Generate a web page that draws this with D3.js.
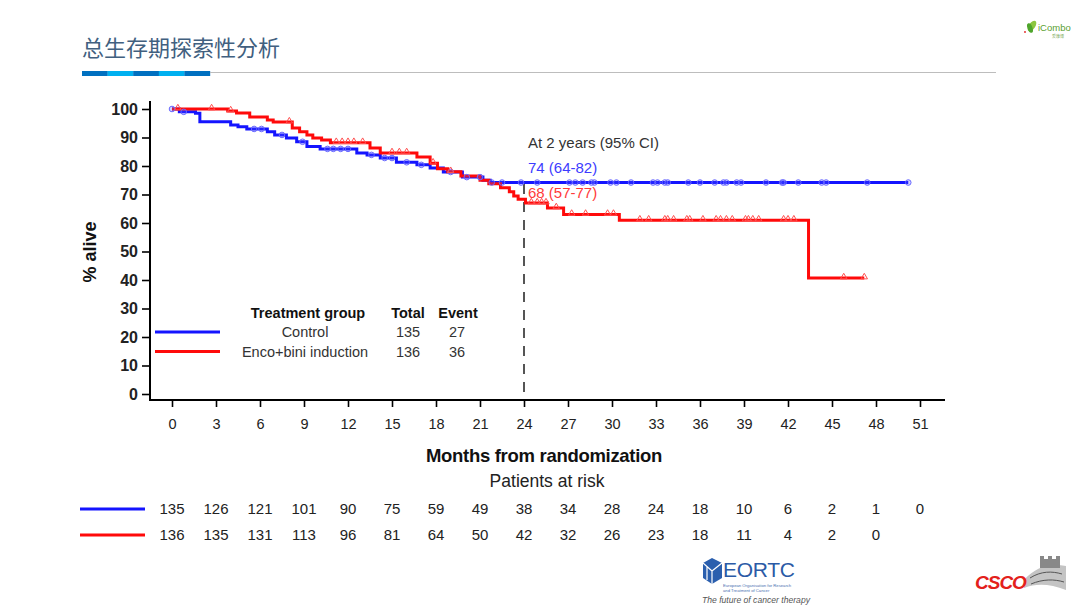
<!DOCTYPE html>
<html><head><meta charset="utf-8">
<script src="https://cdn.jsdelivr.net/npm/d3@7"></script>
<style>
body{margin:0;background:#fff}
svg{display:block}
text{font-family:"Liberation Sans",Arial,sans-serif}
</style>
</head><body>
<svg id="c" width="1080" height="608"></svg>
<script>
// ---------------- data ----------------
const title = "总生存期探索性分析";
const groups = ["Control", "Enco+bini induction"];
const totals = [135, 136];
const events = [27, 36];
const controlTime = [0, 0.5, 1.6, 1.9, 4.0, 4.5, 5.1, 6.5, 7.0, 7.8, 8.5, 9.2, 10.1, 12.6, 13.3, 14.2, 15.3, 16.7, 17.6, 18.5, 19.8, 21.2, 21.7, 50.2];
const controlSurv = [100, 99.0, 98.5, 95.5, 94.4, 93.8, 93.0, 92.0, 90.9, 89.8, 88.5, 86.8, 86.0, 84.6, 83.9, 82.8, 81.3, 80.4, 79.3, 77.9, 76.1, 75.0, 74.2, 74.2];
const encoTime = [0, 3.8, 4.4, 5.3, 6.5, 6.9, 8.2, 8.7, 9.2, 9.6, 10.2, 10.8, 13.5, 14.2, 16.7, 17.6, 18.1, 18.8, 19.7, 21.0, 21.6, 22.4, 23.0, 23.3, 23.6, 24.1, 25.6, 26.7, 30.5, 43.4, 47.2];
const encoSurv = [100, 99.3, 98.6, 97.2, 96.1, 95.4, 93.3, 92.0, 90.9, 89.8, 89.1, 88.2, 86.3, 84.6, 83.2, 81.0, 79.0, 78.0, 76.5, 75.0, 73.8, 72.4, 71.0, 69.5, 68.3, 67.0, 65.3, 63.0, 61.0, 40.7, 40.7];
const controlCensor = [0, 0.8, 5.6, 6.1, 7.5, 8.9, 10.6, 11.0, 11.5, 12.0, 13.6, 14.5, 15.0, 16.0, 17.0, 19.0, 20.1, 21.0, 21.8, 22.5, 23.8, 24.9, 27.1, 27.5, 28.0, 28.6, 28.8, 29.9, 30.3, 31.3, 32.8, 33.1, 33.6, 33.8, 35.2, 36.0, 37.0, 37.6, 37.8, 38.5, 38.8, 40.5, 41.6, 41.7, 42.7, 44.3, 44.6, 47.4, 50.2];
const encoCensor = [0.4, 2.7, 4.0, 8.0, 11.2, 11.6, 12.0, 12.4, 13.0, 15.0, 15.5, 16.0, 17.8, 19.0, 24.5, 24.9, 25.2, 25.5, 26.2, 27.25, 28.2, 29.7, 30.1, 31.9, 32.5, 33.6, 33.8, 34.2, 35.1, 35.3, 36.2, 37.1, 37.4, 37.8, 38.2, 39.1, 39.3, 39.6, 40.0, 41.7, 42.0, 42.4, 45.8, 47.2];
const monthTicks = [0, 3, 6, 9, 12, 15, 18, 21, 24, 27, 30, 33, 36, 39, 42, 45, 48, 51];
const pctTicks = [0, 10, 20, 30, 40, 50, 60, 70, 80, 90, 100];
const riskControl = [135, 126, 121, 101, 90, 75, 59, 49, 38, 34, 28, 24, 18, 10, 6, 2, 1, 0];
const riskEnco = [136, 135, 131, 113, 96, 81, 64, 50, 42, 32, 26, 23, 18, 11, 4, 2, 0];
const landmarkMonth = 24;
const landmarkTitle = "At 2 years (95% CI)";
const landmarkText = ["74 (64-82)", "68 (57-77)"];
const xTitle = "Months from randomization";
const yTitle = "% alive";
const riskTitle = "Patients at risk";

// ---------------- drawing ----------------
const BLUE = "#1414ff", RED = "#ff0a0a";
const svg = d3.select("#c");
svg.append("rect").attr("width", 1080).attr("height", 608).attr("fill", "#fff");

// header
svg.append("text").attr("x", 82).attr("y", 56).text(title)
  .style("font-family", "'Noto Sans CJK SC',sans-serif").style("font-size", "22px").attr("fill", "#41607f");
const segCols = ["#0070c0", "#00b0f0", "#0070c0", "#00b0f0", "#0070c0"];
segCols.forEach((c, i) => svg.append("rect").attr("x", 82 + i * 25.6).attr("y", 71).attr("width", 25.8).attr("height", 5).attr("fill", c));
svg.append("line").attr("x1", 210).attr("x2", 996).attr("y1", 72.5).attr("y2", 72.5).attr("stroke", "#bdbdbd").attr("stroke-width", 1.2);

// iCombo logo
const lg = svg.append("g");
lg.append("ellipse").attr("cx", 1032).attr("cy", 26).attr("rx", 3.2).attr("ry", 6).attr("transform", "rotate(35 1032 26)").attr("fill", "#8cc63f");
lg.append("ellipse").attr("cx", 1030).attr("cy", 28).attr("rx", 2.5).attr("ry", 5).attr("transform", "rotate(-20 1030 28)").attr("fill", "#4fa52c");
lg.append("circle").attr("cx", 1025).attr("cy", 32).attr("r", 0.9).attr("fill", "#e02020");
lg.append("text").attr("x", 1038).attr("y", 31).text("iCombo").style("font-size", "9.5px").attr("fill", "#5aa02f");
lg.append("text").attr("x", 1052).attr("y", 37.5).text("爱康博").style("font-size", "4px").style("font-family", "'Noto Sans CJK SC'").attr("fill", "#7aaa55");

// scales
const x = d3.scaleLinear().domain([0, 51]).range([172, 920]);
const y = d3.scaleLinear().domain([0, 100]).range([394, 109]);

// axes
const gx = svg.append("g").attr("transform", "translate(0,400)")
  .call(d3.axisBottom(x).tickValues(monthTicks).tickSize(7).tickPadding(12).tickSizeOuter(0));
gx.select(".domain").remove();
gx.selectAll("line").attr("stroke", "#000").attr("stroke-width", 1.6);
gx.selectAll("text").style("font-size", "14.5px").attr("fill", "#222");
svg.append("line").attr("x1", 150).attr("x2", 945).attr("y1", 400).attr("y2", 400).attr("stroke", "#000").attr("stroke-width", 2);

const gy = svg.append("g").attr("transform", "translate(150,0)")
  .call(d3.axisLeft(y).tickValues(pctTicks).tickSize(8).tickPadding(4).tickSizeOuter(0));
gy.select(".domain").remove();
gy.selectAll("line").attr("stroke", "#000").attr("stroke-width", 1.6);
gy.selectAll("text").style("font-size", "16px").style("font-weight", "bold").attr("fill", "#222");
svg.append("line").attr("x1", 150).attr("x2", 150).attr("y1", 101).attr("y2", 401).attr("stroke", "#000").attr("stroke-width", 2);

svg.append("text").attr("transform", "translate(96,252) rotate(-90)").attr("text-anchor", "middle")
  .text(yTitle).style("font-size", "18px").style("font-weight", "bold").attr("fill", "#111");
svg.append("text").attr("x", 544).attr("y", 462).attr("text-anchor", "middle")
  .text(xTitle).style("font-size", "18.5px").style("font-weight", "bold").attr("fill", "#111").style("letter-spacing", "-0.3px");
svg.append("text").attr("x", 547).attr("y", 487).attr("text-anchor", "middle")
  .text(riskTitle).style("font-size", "17.5px").attr("fill", "#222");

// landmark dashed line
svg.append("line").attr("x1", x(landmarkMonth)).attr("x2", x(landmarkMonth)).attr("y1", 184).attr("y2", 400)
  .attr("stroke", "#555").attr("stroke-width", 2).attr("stroke-dasharray", "10,8");

// curves
const line = d3.line().x(d => x(d[0])).y(d => y(d[1])).curve(d3.curveStepAfter);
const survAt = (times, surv, t) => surv[Math.max(0, d3.bisectRight(times, t) - 1)];
svg.append("path").datum(d3.zip(controlTime, controlSurv)).attr("d", line)
  .attr("fill", "none").attr("stroke", BLUE).attr("stroke-width", 3);
svg.append("path").datum(d3.zip(encoTime, encoSurv)).attr("d", line)
  .attr("fill", "none").attr("stroke", RED).attr("stroke-width", 3);

svg.append("g").selectAll("circle").data(controlCensor).join("circle")
  .attr("cx", d => x(d)).attr("cy", d => y(survAt(controlTime, controlSurv, d)))
  .attr("r", 2.8).attr("fill", "rgba(80,80,255,0.25)").attr("stroke", "#6a6aff").attr("stroke-width", 1);
const tri = d3.symbol().type(d3.symbolTriangle).size(18);
svg.append("g").selectAll("path").data(encoCensor).join("path")
  .attr("transform", d => `translate(${x(d)},${y(survAt(encoTime, encoSurv, d)) - 1})`)
  .attr("d", tri).attr("fill", "none").attr("stroke", "#ff5050").attr("stroke-width", 1);

// landmark annotations
svg.append("text").attr("x", 528).attr("y", 148).text(landmarkTitle).style("font-size", "15px").attr("fill", "#333");
svg.append("text").attr("x", 528).attr("y", 173).text(landmarkText[0]).style("font-size", "15px").attr("fill", "#3c3cff");
svg.append("text").attr("x", 528).attr("y", 198).text(landmarkText[1]).style("font-size", "15px").attr("fill", "#ff3a3a");

// legend inside plot
const lgd = svg.append("g");
lgd.append("text").attr("x", 308).attr("y", 318).attr("text-anchor", "middle").text("Treatment group").style("font-size", "14.5px").style("font-weight", "bold").attr("fill", "#111");
lgd.append("text").attr("x", 408).attr("y", 318).attr("text-anchor", "middle").text("Total").style("font-size", "14.5px").style("font-weight", "bold").attr("fill", "#111");
lgd.append("text").attr("x", 458).attr("y", 318).attr("text-anchor", "middle").text("Event").style("font-size", "14.5px").style("font-weight", "bold").attr("fill", "#111");
[BLUE, RED].forEach((c, i) => {
  const yy = 332 + i * 19.5;
  lgd.append("line").attr("x1", 155).attr("x2", 220).attr("y1", yy).attr("y2", yy).attr("stroke", c).attr("stroke-width", 3);
  lgd.append("text").attr("x", 305).attr("y", yy + 5).attr("text-anchor", "middle").text(groups[i]).style("font-size", "14.5px").attr("fill", "#333");
  lgd.append("text").attr("x", 408).attr("y", yy + 5).attr("text-anchor", "middle").text(totals[i]).style("font-size", "14.5px").attr("fill", "#333");
  lgd.append("text").attr("x", 457).attr("y", yy + 5).attr("text-anchor", "middle").text(events[i]).style("font-size", "14.5px").attr("fill", "#333");
});

// risk table
[riskControl, riskEnco].forEach((row, i) => {
  const yy = 509 + i * 26;
  svg.append("line").attr("x1", 80).attr("x2", 145).attr("y1", yy).attr("y2", yy).attr("stroke", i ? RED : BLUE).attr("stroke-width", 3);
  svg.append("g").selectAll("text").data(row).join("text")
    .attr("x", (d, j) => x(monthTicks[j])).attr("y", yy + 5).attr("text-anchor", "middle")
    .text(d => d).style("font-size", "15px").attr("fill", "#222");
});

// EORTC logo
const eo = svg.append("g");
eo.append("path").attr("d", "M712,558 L722,563 L722,578 L712,584 L703,578 L703,563 Z").attr("fill", "#2b5fae");
eo.append("path").attr("d", "M712,571 L712,584 M712,571 L722,563 M712,571 L703,563 M707,567 L707,580").attr("stroke", "#fff").attr("stroke-width", 1.2).attr("fill", "none");
eo.append("text").attr("x", 723).attr("y", 577).text("EORTC").style("font-size", "21px").attr("fill", "#2b5aa6").style("letter-spacing", "-0.3px");
eo.append("text").attr("x", 723).attr("y", 587).text("European Organisation for Research").style("font-size", "4.2px").attr("fill", "#4a6fb0");
eo.append("text").attr("x", 723).attr("y", 592).text("and Treatment of Cancer").style("font-size", "4.2px").attr("fill", "#4a6fb0");
eo.append("text").attr("x", 702).attr("y", 603).text("The future of cancer therapy").style("font-size", "8.6px").style("font-style", "italic").attr("fill", "#555");

// CSCO logo
const cs = svg.append("g");
cs.append("path").attr("d", "M1024,580 C1036,567 1049,563 1066,566 L1066,590 C1050,584 1037,583 1024,588 Z").attr("fill", "#c4c4c4");
cs.append("path").attr("d", "M1040,564 L1040,556 L1044,556 L1044,559 L1048,559 L1048,556 L1052,556 L1052,559 L1056,559 L1056,556 L1060,556 L1060,568 L1040,568 Z").attr("fill", "#888");
cs.append("path").attr("d", "M1030,578 C1041,571 1052,571 1062,574 M1031,584 C1043,579 1054,579 1064,582").attr("stroke", "#555").attr("stroke-width", 1).attr("fill", "none");
cs.append("text").attr("x", 975).attr("y", 589).text("CSCO").style("font-size", "19px").style("font-weight", "bold").style("font-style", "italic").attr("fill", "#e3211b").style("letter-spacing", "-1px");
</script>
</body></html>
